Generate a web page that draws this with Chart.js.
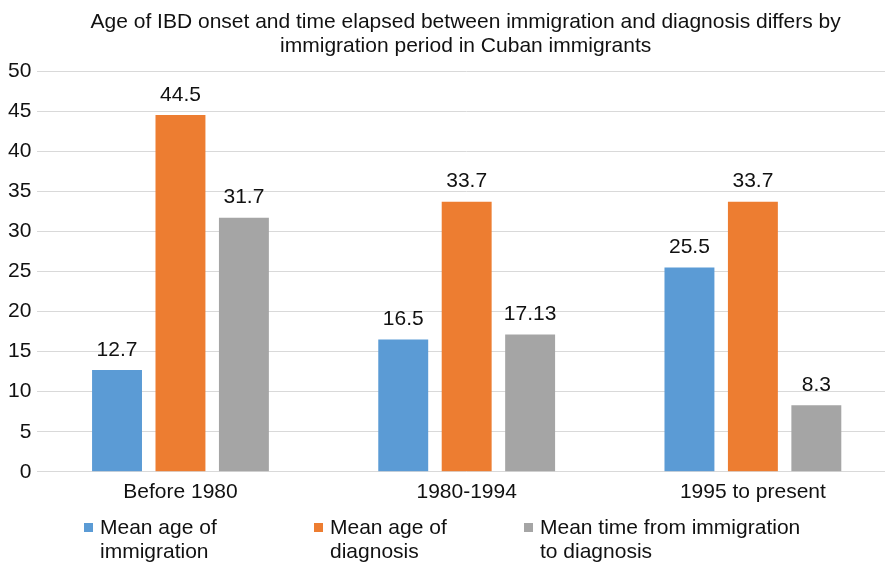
<!DOCTYPE html>
<html>
<head>
<meta charset="utf-8">
<script src="https://cdn.jsdelivr.net/npm/chart.js@4.4.1/dist/chart.umd.min.js"></script>
<style>
  html, body { margin: 0; padding: 0; overflow: hidden; background: #fff; width: 885px; height: 564px; }
  canvas { display: block; }
</style>
</head>
<body>
<canvas id="chart" width="900" height="564"></canvas>
<script>
// Immigration periods and the three measures per period
const periods = ['Before 1980', '1980-1994', '1995 to present'];
const meanAgeImmigration = [12.7, 16.5, 25.5];
const meanAgeDiagnosis = [44.5, 33.7, 33.7];
const meanTimeToDiagnosis = [31.7, 17.13, 8.3];
const seriesNames = [
  ['Mean age of', 'immigration'],
  ['Mean age of', 'diagnosis'],
  ['Mean time from immigration', 'to diagnosis']
];
const titleLines = [
  'Age of IBD onset and time elapsed between immigration and diagnosis differs by',
  'immigration period in Cuban immigrants'
];
const yTicks = [0, 5, 10, 15, 20, 25, 30, 35, 40, 45, 50];

const colors = ['#5B9BD5', '#ED7D31', '#A5A5A5'];
const FONT = '"Liberation Sans", Arial, Helvetica, sans-serif';
const SIZE = 21;
const TEXT = '#111111';

// Two-line heading centred over the plot area
const plotTitle = {
  id: 'plotTitle',
  afterDraw(chart) {
    const ctx = chart.ctx;
    const a = chart.chartArea;
    const cx = (a.left + a.right) / 2 - 1;
    ctx.save();
    ctx.font = SIZE + 'px ' + FONT;
    ctx.fillStyle = TEXT;
    ctx.textAlign = 'center';
    ctx.textBaseline = 'middle';
    titleLines.forEach((t, k) => ctx.fillText(t, cx, 22 + k * 24));
    ctx.restore();
  }
};

// Value labels above every bar
const valueLabels = {
  id: 'valueLabels',
  afterDatasetsDraw(chart) {
    const ctx = chart.ctx;
    ctx.save();
    ctx.font = SIZE + 'px ' + FONT;
    ctx.fillStyle = TEXT;
    ctx.textAlign = 'center';
    ctx.textBaseline = 'middle';
    chart.data.datasets.forEach((ds, i) => {
      chart.getDatasetMeta(i).data.forEach((bar, j) => {
        ctx.fillText(String(ds.data[j]), bar.x, bar.y - 20);
      });
    });
    ctx.restore();
  }
};

// Legend below the axis with two-line entries
const wrappedLegend = {
  id: 'wrappedLegend',
  afterDraw(chart) {
    const ctx = chart.ctx;
    const xs = [84, 314, 524];
    const top = 528;
    const lineH = 24;
    ctx.save();
    ctx.font = SIZE + 'px ' + FONT;
    ctx.textBaseline = 'middle';
    ctx.textAlign = 'left';
    seriesNames.forEach((lines, i) => {
      ctx.fillStyle = colors[i];
      ctx.fillRect(xs[i], top - 5, 9, 9);
      ctx.fillStyle = TEXT;
      lines.forEach((t, k) => ctx.fillText(t, xs[i] + 16, top + k * lineH));
    });
    ctx.restore();
  }
};

new Chart(document.getElementById('chart'), {
  type: 'bar',
  data: {
    labels: periods,
    datasets: [
      { label: seriesNames[0].join(' '), data: meanAgeImmigration, backgroundColor: colors[0] },
      { label: seriesNames[1].join(' '), data: meanAgeDiagnosis, backgroundColor: colors[1] },
      { label: seriesNames[2].join(' '), data: meanTimeToDiagnosis, backgroundColor: colors[2] }
    ]
  },
  options: {
    responsive: false,
    animation: false,
    devicePixelRatio: 1,
    datasets: { bar: { barPercentage: 0.787, categoryPercentage: 0.665 } },
    layout: { padding: { top: 71, left: 2, right: 4, bottom: 51 } },
    plugins: {
      legend: { display: false },
      tooltip: { enabled: false },
      title: { display: false }
    },
    scales: {
      x: {
        grid: { display: false, drawTicks: false },
        border: { display: false },
        ticks: { color: TEXT, font: { family: FONT, size: SIZE }, padding: 8 }
      },
      y: {
        min: 0,
        max: 50,
        afterBuildTicks(scale) { scale.ticks = yTicks.map(v => ({ value: v })); },
        grid: { color: '#d9d9d9', lineWidth: 1, drawTicks: false },
        border: { display: false },
        ticks: { color: TEXT, font: { family: FONT, size: SIZE }, padding: 6 }
      }
    }
  },
  plugins: [valueLabels, plotTitle, wrappedLegend]
});
</script>
</body>
</html>
